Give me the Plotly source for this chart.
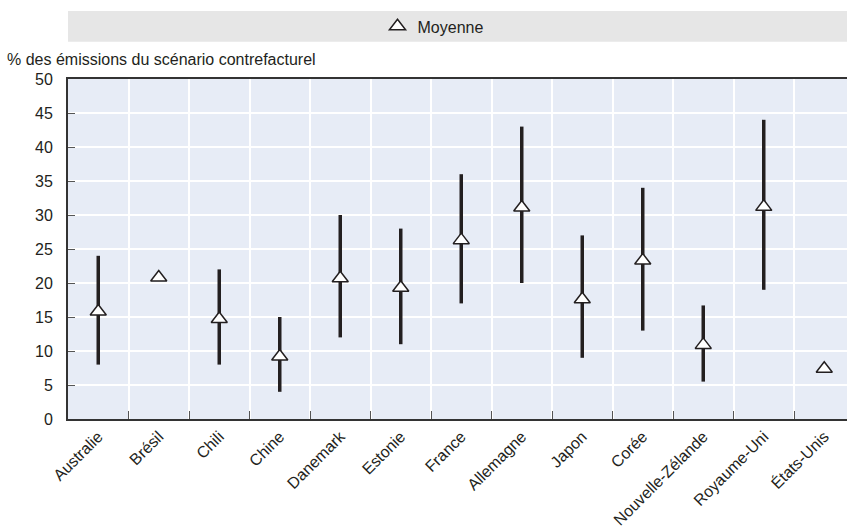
import plotly.graph_objects as go

# Pays et résultats (% des émissions du scénario contrefactuel)
countries = ["Australie", "Brésil", "Chili", "Chine", "Danemark", "Estonie", "France",
             "Allemagne", "Japon", "Corée", "Nouvelle-Zélande", "Royaume-Uni", "États-Unis"]
mean_vals = [15.8, 20.8, 14.7, 9.2, 20.7, 19.3, 26.3, 31.1, 17.6, 23.3, 10.9, 31.2, 7.4]
low_vals = [8, None, 8, 4, 12, 11, 17, 20, 9, 13, 5.5, 19, None]
high_vals = [24, None, 22, 15, 30, 28, 36, 43, 27, 34, 16.7, 44, None]
y_ticks = [0, 5, 10, 15, 20, 25, 30, 35, 40, 45, 50]

FONT = "Liberation Sans, Arial, sans-serif"
FS = 16
TXT = "#231f20"

W, H = 847, 531
L, R, T, B = 68, 0, 79, 112

# vertical min-max segments, separated by gaps
seg_x, seg_y = [], []
for c, lo, hi in zip(countries, low_vals, high_vals):
    if lo is None or hi is None:
        continue
    seg_x += [c, c, None]
    seg_y += [lo, hi, None]

fig = go.Figure()
fig.add_trace(go.Scatter(
    x=seg_x, y=seg_y, mode="lines",
    line=dict(color="#231f20", width=3.5),
    showlegend=False, hoverinfo="skip",
))
fig.add_trace(go.Scatter(
    x=countries, y=mean_vals, mode="markers", name="Moyenne",
    marker=dict(symbol="triangle-up", size=14, color="white",
                line=dict(color="#231f20", width=1.5)),
))

plot_w = W - L - R
plot_h = H - T - B

# grey band behind the legend
fig.add_shape(type="rect", xref="paper", yref="paper",
              x0=0, x1=(W - L) / plot_w, y0=(H - B - 41.7) / plot_h, y1=(H - B - 11) / plot_h,
              fillcolor="#e6e6e6", line=dict(width=0), layer="below")

fig.add_annotation(
    text="% des émissions du scénario contrefacturel",
    xref="paper", yref="paper", x=(5 - L) / plot_w, y=(H - B - 59) / plot_h,
    xanchor="left", yanchor="middle", showarrow=False,
    font=dict(family=FONT, size=FS, color=TXT),
)

fig.update_layout(
    width=W, height=H,
    margin=dict(l=L, r=R, t=T, b=B),
    paper_bgcolor="white",
    plot_bgcolor="#e7ecf6",
    font=dict(family=FONT, size=FS, color=TXT),
    showlegend=True,
    legend=dict(orientation="h", x=(433 - L) / plot_w, xanchor="center",
                y=(H - B - 26.4) / plot_h, yanchor="middle",
                bgcolor="rgba(0,0,0,0)", font=dict(family=FONT, size=FS, color=TXT)),
    xaxis=dict(
        type="category", categoryorder="array", categoryarray=countries,
        range=[-0.5, -0.5 + (W - L) / 60.5], automargin=False,
        tickson="boundaries", ticks="inside", ticklen=8, tickwidth=1.2, tickcolor="#555555",
        showgrid=True, gridcolor="white", gridwidth=1.5,
        showline=True, linecolor="#333333", linewidth=2, mirror=True,
        tickangle=-45, tickfont=dict(family=FONT, size=FS, color=TXT),
        zeroline=False,
    ),
    yaxis=dict(
        range=[0, 50], tickvals=y_ticks, ticktext=[str(v) for v in y_ticks],
        automargin=False,
        ticks="inside", ticklen=7, tickwidth=1.2, tickcolor="#555555",
        showgrid=True, gridcolor="white", gridwidth=1.5,
        showline=True, linecolor="#333333", linewidth=2,
        zeroline=False, ticklabelstandoff=10,
        tickfont=dict(family=FONT, size=FS, color=TXT),
    ),
)

fig.write_html("out.html")
